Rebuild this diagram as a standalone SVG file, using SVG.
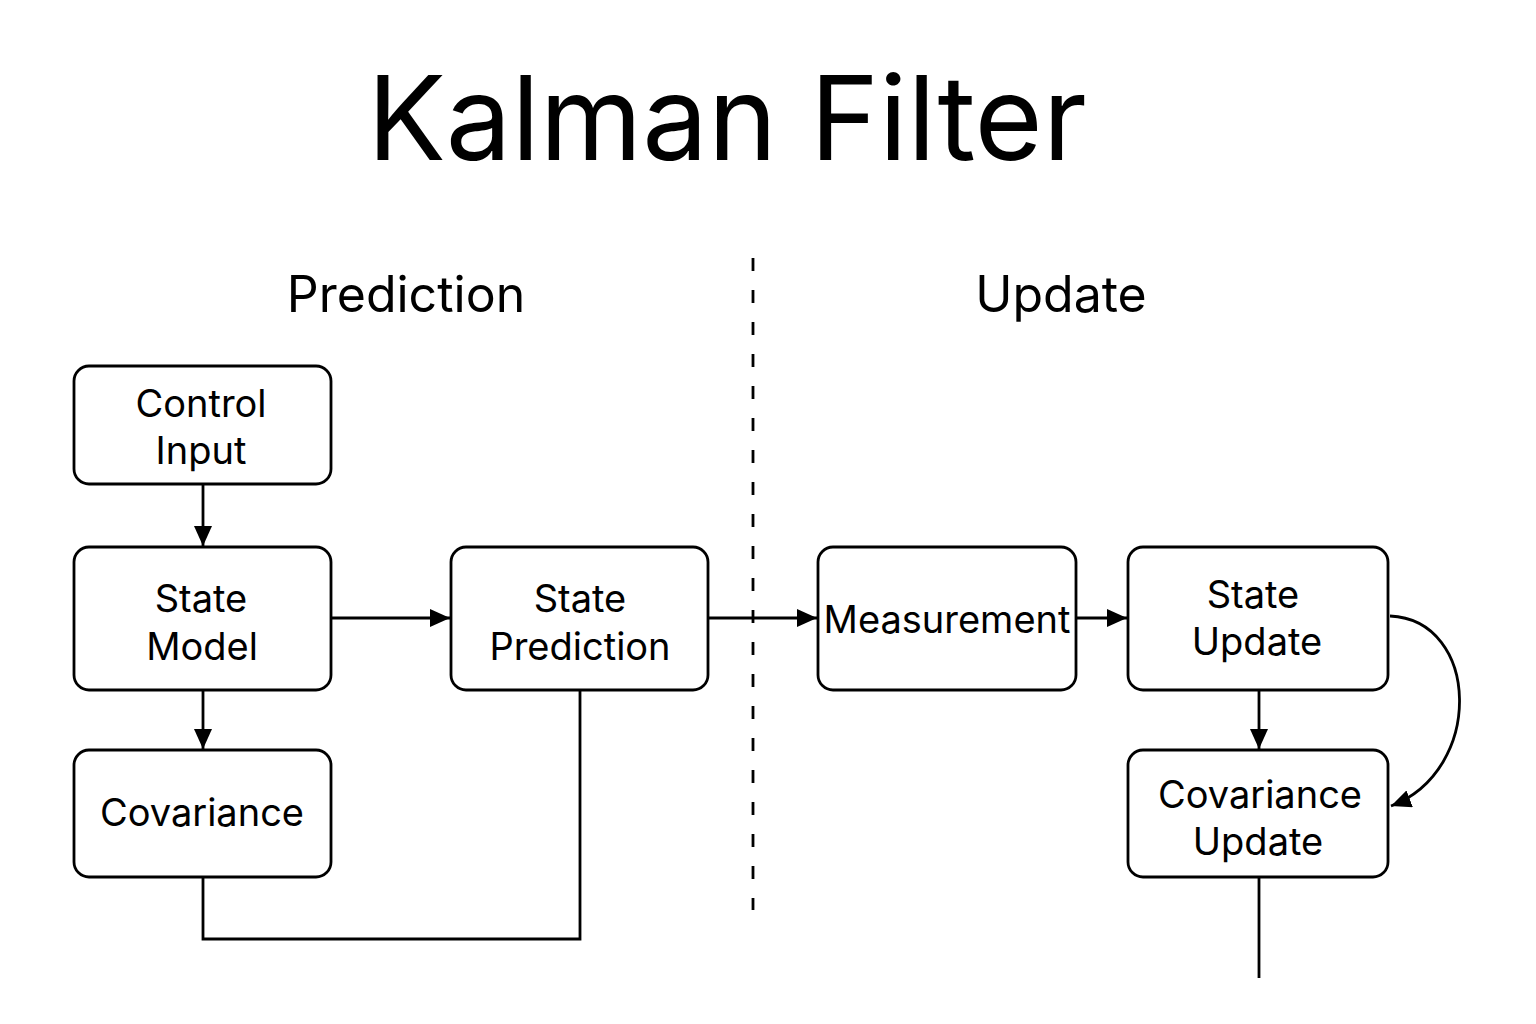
<svg xmlns="http://www.w3.org/2000/svg" width="1536" height="1024" viewBox="0 0 1536 1024">
<defs>
<marker id="arr2" markerWidth="20" markerHeight="18" refX="20" refY="9" orient="auto" markerUnits="userSpaceOnUse" viewBox="0 0 20 18"><path d="M0,0 L20,9 L0,18 Z" fill="#000"/></marker>
</defs>
<style>
.box{fill:#fff;stroke:#000;stroke-width:2.8}
.t{font-family:Inter,"Liberation Sans",sans-serif;font-size:38px;fill:#000;text-anchor:middle}
.h{font-family:Inter,"Liberation Sans",sans-serif;fill:#000;text-anchor:middle}
.c{fill:none;stroke:#000;stroke-width:2.8}
</style>
<rect width="1536" height="1024" fill="#fff"/>
<text class="h" x="727" y="160" font-size="117">Kalman Filter</text>
<text class="h" x="406" y="312" font-size="50">Prediction</text>
<text class="h" x="1061" y="312" font-size="50">Update</text>
<line x1="753" y1="258" x2="753" y2="910" stroke="#000" stroke-width="2.8" stroke-dasharray="13 19"/>
<g id="connectors">
<line class="c" x1="203" y1="485" x2="203" y2="546" marker-end="url(#arr2)"/>
<line class="c" x1="332" y1="618" x2="450" y2="618" marker-end="url(#arr2)"/>
<line class="c" x1="203" y1="691" x2="203" y2="749" marker-end="url(#arr2)"/>
<polyline class="c" points="203,877 203,939 580,939 580,690"/>
<line class="c" x1="709" y1="618" x2="817" y2="618" marker-end="url(#arr2)"/>
<line class="c" x1="1077" y1="618" x2="1127" y2="618" marker-end="url(#arr2)"/>
<line class="c" x1="1259" y1="691" x2="1259" y2="749" marker-end="url(#arr2)"/>
<path class="c" d="M1390,616 C1480,620 1485,770 1391,806" marker-end="url(#arr2)"/>
<line class="c" x1="1259" y1="877" x2="1259" y2="978"/>
</g>
<g id="control-input"><rect class="box" x="74" y="366" width="257" height="118" rx="15"/><text class="t" x="201" y="417">Control</text><text class="t" x="201" y="464">Input</text></g>
<g id="state-model"><rect class="box" x="74" y="547" width="257" height="143" rx="15"/><text class="t" x="201" y="612">State</text><text class="t" x="202" y="660">Model</text></g>
<g id="covariance"><rect class="box" x="74" y="750" width="257" height="127" rx="15"/><text class="t" x="202" y="826">Covariance</text></g>
<g id="state-prediction"><rect class="box" x="451" y="547" width="257" height="143" rx="15"/><text class="t" x="580" y="612">State</text><text class="t" x="580" y="660">Prediction</text></g>
<g id="measurement"><rect class="box" x="818" y="547" width="258" height="143" rx="15"/><text class="t" x="947" y="633">Measurement</text></g>
<g id="state-update"><rect class="box" x="1128" y="547" width="260" height="143" rx="15"/><text class="t" x="1253" y="608">State</text><text class="t" x="1257" y="655">Update</text></g>
<g id="covariance-update"><rect class="box" x="1128" y="750" width="260" height="127" rx="15"/><text class="t" x="1260" y="808">Covariance</text><text class="t" x="1258" y="855">Update</text></g>
</svg>
